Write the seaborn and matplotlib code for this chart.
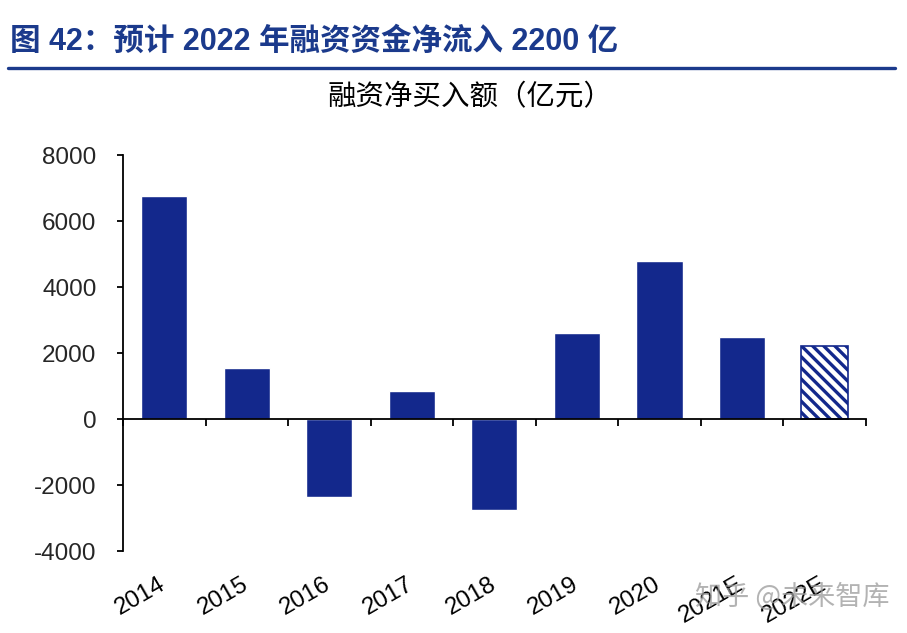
import matplotlib
matplotlib.use("Agg")
import matplotlib.pyplot as plt
import matplotlib.transforms as mtransforms
import seaborn as sns
import pandas as pd
import numpy as np

categories = ["2014", "2015", "2016", "2017", "2018", "2019", "2020", "2021E", "2022E"]
values = [6750, 1550, -2350, 850, -2750, 2600, 4800, 2500, 2200]
yticks = [-4000, -2000, 0, 2000, 4000, 6000, 8000]
title = "图 42：预计 2022 年融资资金净流入 2200 亿"
subtitle = "融资净买入额（亿元）"
watermark = "知乎 @未来智库"

BAR = "#13288c"
TITLE_BLUE = "#1b3a8c"

sns.set_theme(style="white")
plt.rcParams["font.family"] = ["Liberation Sans", "Noto Sans CJK SC"]
plt.rcParams["hatch.color"] = BAR
plt.rcParams["hatch.linewidth"] = 2.4

df = pd.DataFrame({"year": categories, "value": values})

fig = plt.figure(figsize=(9.07, 6.33), dpi=100)
ax = fig.add_axes([0.1356, 0.1295, 0.9545 - 0.1356, 0.755 - 0.1295])

sns.barplot(data=df, x="year", y="value", color=BAR, saturation=1, width=0.56, ax=ax)

last = ax.patches[-1]
last.set_facecolor("white")
last.set_edgecolor(BAR)
last.set_hatch("\\\\\\")
last.set_linewidth(1.2)

ax.set_xlim(-0.5, len(categories) - 0.5)
ax.set_ylim(-4000, 8000)
ax.set_yticks(yticks)
ax.set_yticklabels([str(v) for v in yticks], fontsize=17.5)
ax.set_xlabel("")
ax.set_ylabel("")

for s in ["top", "right"]:
    ax.spines[s].set_visible(False)
ax.spines["left"].set_color("black")
ax.spines["left"].set_linewidth(1.3)
ax.spines["bottom"].set_position(("data", 0))
ax.spines["bottom"].set_color("black")
ax.spines["bottom"].set_linewidth(1.3)

ax.set_xticks(np.arange(-0.5, len(categories), 1.0))
ax.set_xticklabels([])
ax.tick_params(axis="x", direction="out", length=5, width=1.3, color="black", bottom=True)
ax.tick_params(axis="y", direction="out", length=4, width=1.3, color="black", left=True, pad=15)

trans = mtransforms.blended_transform_factory(ax.transData, ax.transAxes)
for i, lab in enumerate(categories):
    ax.text(i - 0.07, -0.055, lab, transform=trans, rotation=30, ha="right", va="top",
            rotation_mode="anchor", fontsize=17.5, color="black")

fig.text(0.011, 0.934, title, fontsize=22, fontweight="bold", color=TITLE_BLUE,
         ha="left", va="center")
fig.add_artist(plt.Line2D([0.009, 0.987], [0.892, 0.892], transform=fig.transFigure,
                          color=TITLE_BLUE, linewidth=2.4))
fig.text(0.518, 0.847, subtitle, fontsize=20.5, color="black", ha="center", va="center",
         family=["Noto Sans CJK SC"])

fig.text(0.766, 0.057, watermark, fontsize=19.5, color="#9a9a9a", alpha=0.75,
         ha="left", va="center", family=["Noto Sans CJK SC"])

fig.savefig("out.png", dpi=100)
